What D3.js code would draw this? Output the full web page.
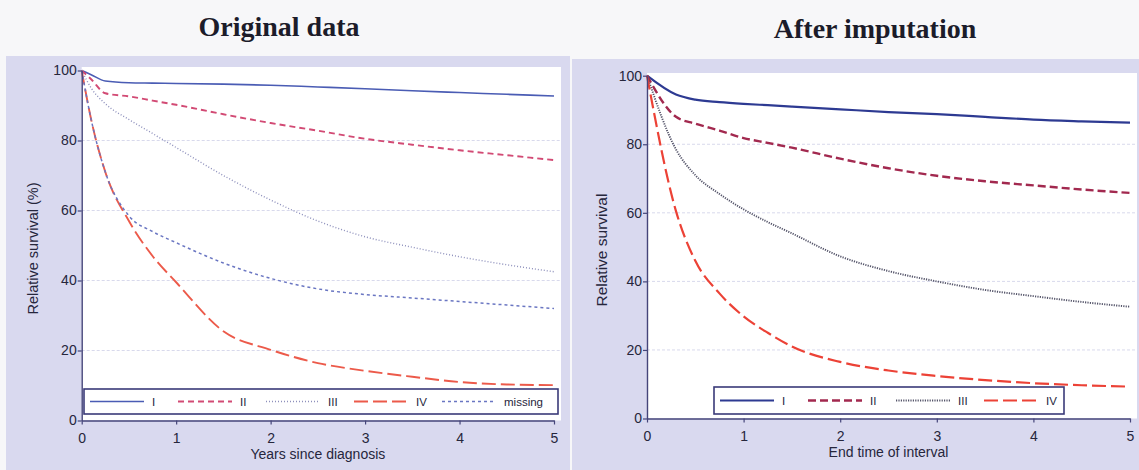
<!DOCTYPE html>
<html>
<head>
<meta charset="utf-8">
<script src="https://cdn.jsdelivr.net/npm/d3@7"></script>
<style>
  body { margin: 0; background: #f7f7f9; }
  svg { display: block; }
  .tick text { font-family: "Liberation Sans", Arial, sans-serif; }
</style>
</head>
<body>
<svg id="chart" width="1139" height="470"></svg>
<script>
// ---- data ----
const leftTimes = [0, 0.1, 0.25, 0.5, 0.75, 1, 1.5, 2, 2.5, 3, 3.5, 4, 4.5, 5];
const leftI = [100, 98.8, 97, 96.5, 96.4, 96.3, 96.1, 95.8, 95.3, 94.8, 94.2, 93.7, 93.2, 92.7];
const leftII = [100, 97.5, 93.5, 92.6, 91.4, 90.2, 87.5, 85, 82.8, 80.5, 78.8, 77.2, 75.8, 74.4];
const leftIII = [100, 95, 90.5, 86, 82, 78, 70, 63, 57, 52.5, 49.5, 46.8, 44.5, 42.5];
const leftIV = [100, 86, 71, 57, 47, 39.5, 25.5, 20.2, 16.4, 14.2, 12.5, 11, 10.3, 10.1];
const leftMissing = [100, 86, 71, 58.5, 54, 50.8, 45, 40.6, 37.6, 36, 35, 34, 33, 32];

const rightTimes = [0, 0.3, 0.5, 0.75, 1, 1.25, 1.5, 2, 2.5, 3, 3.5, 4, 4.5, 5];
const rightI = [100, 94.5, 93, 92.3, 91.8, 91.4, 91, 90.2, 89.4, 88.8, 88, 87.2, 86.7, 86.3];
const rightII = [100, 88, 86, 84, 81.8, 80.4, 79, 75.8, 73, 70.8, 69.2, 68, 66.8, 65.8];
const rightIII = [100, 78.5, 71, 65.5, 61, 57.3, 54, 47.3, 43, 40, 37.5, 35.7, 34, 32.6];
const rightIV = [100, 60.5, 46, 36.5, 29.8, 25, 21, 16.5, 14, 12.4, 11.2, 10.3, 9.7, 9.3];

const xTicks = [0, 1, 2, 3, 4, 5];
const yTicks = [0, 20, 40, 60, 80, 100];
const gridValues = [20, 40, 60, 80];

const svg = d3.select("#chart");
const sans = "'Liberation Sans', Arial, sans-serif";
const serif = "'Liberation Serif', 'Times New Roman', serif";
const ink = "#26263c";
const axisCol = "#45457a";

// lavender panel backgrounds
svg.append("rect").attr("x", 6).attr("y", 56).attr("width", 564).attr("height", 414).attr("fill", "#d9d9ef");
svg.append("rect").attr("x", 572).attr("y", 59).attr("width", 567).attr("height", 411).attr("fill", "#d9d9ef");

// titles
svg.append("text").attr("x", 279).attr("y", 36).attr("text-anchor", "middle")
  .style("font-family", serif).style("font-weight", "bold").style("font-size", "28px")
  .attr("fill", "#1c1c2a").text("Original data");
svg.append("text").attr("x", 875).attr("y", 38).attr("text-anchor", "middle")
  .style("font-family", serif).style("font-weight", "bold").style("font-size", "28px")
  .attr("fill", "#1c1c2a").text("After imputation");

function panel(cfg) {
  const x = d3.scaleLinear().domain([0, 5]).range(cfg.xRange);
  const y = d3.scaleLinear().domain([0, 100]).range(cfg.yRange);

  // white plot area
  svg.append("rect")
    .attr("x", x(0)).attr("y", cfg.plotTop)
    .attr("width", cfg.plotRight - x(0)).attr("height", y(0) - cfg.plotTop)
    .attr("fill", "#ffffff");

  // gridlines
  svg.append("g").selectAll("line").data(gridValues).join("line")
    .attr("x1", x(0)).attr("x2", cfg.plotRight)
    .attr("y1", d => y(d)).attr("y2", d => y(d))
    .attr("stroke", "#d8d9ec").attr("stroke-width", 1).attr("stroke-dasharray", "3,2");

  // curves
  const line = d3.line()
    .x(d => x(d.t))
    .y(d => y(d.v))
    .curve(d3.curveMonotoneX);

  cfg.series.forEach(s => {
    const pts = cfg.times.map((t, i) => ({ t: t, v: s.values[i] }));
    svg.append("path")
      .datum(pts)
      .attr("d", line)
      .attr("fill", "none")
      .attr("stroke", s.color)
      .attr("stroke-width", s.width)
      .attr("stroke-dasharray", s.dash);
  });

  // axes
  const gx = svg.append("g")
    .attr("transform", `translate(0, ${y(0)})`)
    .call(d3.axisBottom(x).tickValues(xTicks).tickSize(4).tickSizeOuter(0).tickFormat(d3.format("d")));
  const gy = svg.append("g")
    .attr("transform", `translate(${x(0)}, 0)`)
    .call(d3.axisLeft(y).tickValues(yTicks).tickSize(4).tickSizeOuter(0).tickFormat(d3.format("d")));
  [gx, gy].forEach(g => {
    g.select(".domain").attr("stroke", axisCol).attr("stroke-width", 1.4);
    g.selectAll(".tick line").attr("stroke", axisCol).attr("stroke-width", 1.2);
    g.selectAll(".tick text").attr("fill", ink).style("font-size", "14px");
  });
  gx.selectAll(".tick text").attr("dy", "1.1em");
  gy.selectAll(".tick text").attr("x", -5);

  // axis titles
  svg.append("text")
    .attr("x", (x(0) + x(5)) / 2).attr("y", y(0) + 38)
    .attr("text-anchor", "middle").style("font-family", sans).style("font-size", "14px")
    .attr("fill", ink).text(cfg.xTitle);
  svg.append("text")
    .attr("transform", `translate(${cfg.yTitleX}, ${(y(0) + y(100)) / 2 + 3}) rotate(-90)`)
    .attr("text-anchor", "middle").style("font-family", sans).style("font-size", cfg.yTitleSize)
    .attr("fill", ink).text(cfg.yTitle);

  // legend
  const lg = svg.append("g");
  lg.append("rect")
    .attr("x", cfg.legend.x).attr("y", cfg.legend.y)
    .attr("width", cfg.legend.w).attr("height", cfg.legend.h)
    .attr("fill", "#ffffff").attr("stroke", "#3a3a78").attr("stroke-width", 1.6);
  const midY = cfg.legend.y + cfg.legend.h / 2;
  const items = lg.selectAll(".item").data(cfg.series).join("g")
    .attr("class", "item")
    .attr("transform", (d, i) => `translate(${cfg.legend.x + 6 + i * 88}, ${midY})`);
  items.append("line")
    .attr("x1", 0).attr("x2", 54).attr("y1", 0).attr("y2", 0)
    .attr("stroke", d => d.color).attr("stroke-width", d => d.width)
    .attr("stroke-dasharray", d => d.dash);
  items.append("text")
    .attr("x", 62).attr("y", 4)
    .style("font-family", sans).style("font-size", "11.5px")
    .attr("fill", ink).text(d => d.name);
}

panel({
  xRange: [81.7, 554],
  yRange: [420.5, 70.5],
  plotTop: 67,
  plotRight: 561,
  times: leftTimes,
  xTitle: "Years since diagnosis",
  yTitle: "Relative survival (%)",
  yTitleX: 38,
  yTitleSize: "14.5px",
  legend: { x: 84, y: 389, w: 474, h: 25 },
  series: [
    { name: "I", values: leftI, color: "#4a5cb4", width: 1.6, dash: null },
    { name: "II", values: leftII, color: "#d24a74", width: 1.9, dash: "6,4" },
    { name: "III", values: leftIII, color: "#8e90bc", width: 1.4, dash: "1,2" },
    { name: "IV", values: leftIV, color: "#ec5a4a", width: 1.9, dash: "14,5" },
    { name: "missing", values: leftMissing, color: "#6a76c2", width: 1.5, dash: "3,3" }
  ]
});

panel({
  xRange: [647, 1130],
  yRange: [418.5, 75.7],
  plotTop: 73,
  plotRight: 1137,
  times: rightTimes,
  xTitle: "End time of interval",
  yTitle: "Relative survival",
  yTitleX: 607,
  yTitleSize: "15.5px",
  legend: { x: 714, y: 387, w: 350, h: 27 },
  series: [
    { name: "I", values: rightI, color: "#2d3a92", width: 2.2, dash: null },
    { name: "II", values: rightII, color: "#a2294f", width: 2.4, dash: "8,4" },
    { name: "III", values: rightIII, color: "#55556a", width: 1.9, dash: "1.2,1.2" },
    { name: "IV", values: rightIV, color: "#ec4236", width: 2.2, dash: "14,5" }
  ]
});
</script>
</body>
</html>
